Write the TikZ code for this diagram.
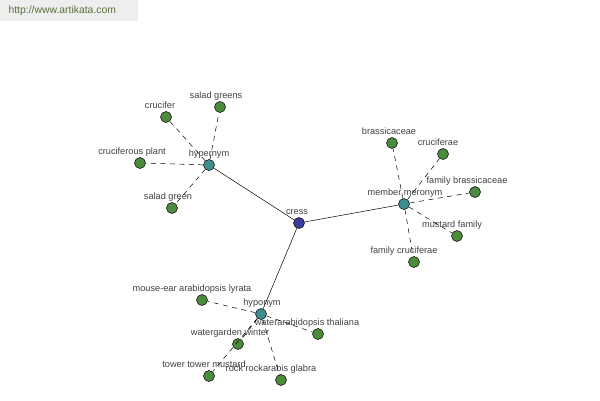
\documentclass[tikz,border=0pt]{standalone}
\usepackage{fontspec}
\setmainfont{Liberation Sans}
\definecolor{leaf}{HTML}{4C8A3C}
\definecolor{hub}{HTML}{3E8E8E}
\definecolor{root}{HTML}{3C3C9C}
\definecolor{urltext}{HTML}{5A6E3C}
\definecolor{urlbg}{HTML}{EEEEEE}

\begin{document}
\begin{tikzpicture}[x=1pt, y=-1pt,
	main/.style = {draw, circle, minimum size=11pt, inner sep=0pt, line width=0.5pt},
	every label/.style = {font=\fontsize{9.2}{11}\selectfont, text=black!75, inner sep=0pt, anchor=base},
	label distance = 2.5pt,
	rel/.style = {line width=0.5pt},
	syn/.style = {line width=0.5pt, dash pattern=on 5pt off 4.5pt}]
	\useasboundingbox (0,0) rectangle (600,400);
	\fill[urlbg] (0,0) rectangle (138,21);
	\node[anchor=west, text=urltext, font=\fontsize{10.4}{12}\selectfont] (url) at (5,11) {http://www.artikata.com};

	\node[main, fill=root] (cress) at (299,223) [label={[xshift=-2pt]above:cress}] {};
	\node[main, fill=hub] (hyper) at (209,165) [label={above:hypernym}] {};
	\node[main, fill=hub] (member) at (404,204) [label={[xshift=1pt]above:member meronym}] {};
	\node[main, fill=hub] (hypo) at (261,314) [label={[xshift=1pt]above:hyponym}] {};

	\node[main, fill=leaf] (crucifer) at (166,117) [label={[xshift=-6pt]above:crucifer}] {};
	\node[main, fill=leaf] (greens) at (220,107) [label={[xshift=-4pt]above:salad greens}] {};
	\node[main, fill=leaf] (plant) at (140,163) [label={[xshift=-8pt]above:cruciferous plant}] {};
	\node[main, fill=leaf] (green) at (172,208) [label={[xshift=-4pt]above:salad green}] {};

	\node[main, fill=leaf] (brass) at (392,143) [label={[xshift=-3pt]above:brassicaceae}] {};
	\node[main, fill=leaf] (crucif) at (443,154) [label={[xshift=-5pt]above:cruciferae}] {};
	\node[main, fill=leaf] (fambrass) at (475,192) [label={[xshift=-8pt]above:family brassicaceae}] {};
	\node[main, fill=leaf] (mustard) at (457,236) [label={[xshift=-5pt]above:mustard family}] {};
	\node[main, fill=leaf] (famcruc) at (414,262) [label={[xshift=-10pt]above:family cruciferae}] {};

	\node[main, fill=leaf] (lyrata) at (202,300) [label={[xshift=-10pt]above:mouse-ear arabidopsis lyrata}] {};
	\node[main, fill=leaf] (thaliana) at (318,334) [label={[xshift=-11pt]above:waterarabidopsis thaliana}] {};
	\node[main, fill=leaf] (winter) at (238,344) [label={[xshift=-8pt]above:watergarden winter}] {};
	\node[main, fill=leaf] (tower) at (209,376) [label={[xshift=-5pt]above:tower tower mustard}] {};
	\node[main, fill=leaf] (glabra) at (281,380) [label={[xshift=-10pt]above:rock rockarabis glabra}] {};

	\draw[rel] (cress) -- (hyper);
	\draw[rel] (cress) -- (member);
	\draw[rel] (cress) -- (hypo);

	\foreach \n in {crucifer, greens, plant, green}
		\draw[syn] (hyper) -- (\n);
	\foreach \n in {brass, crucif, fambrass, mustard, famcruc}
		\draw[syn] (member) -- (\n);
	\foreach \n in {lyrata, thaliana, winter, tower, glabra}
		\draw[syn] (hypo) -- (\n);
\end{tikzpicture}
\end{document}
